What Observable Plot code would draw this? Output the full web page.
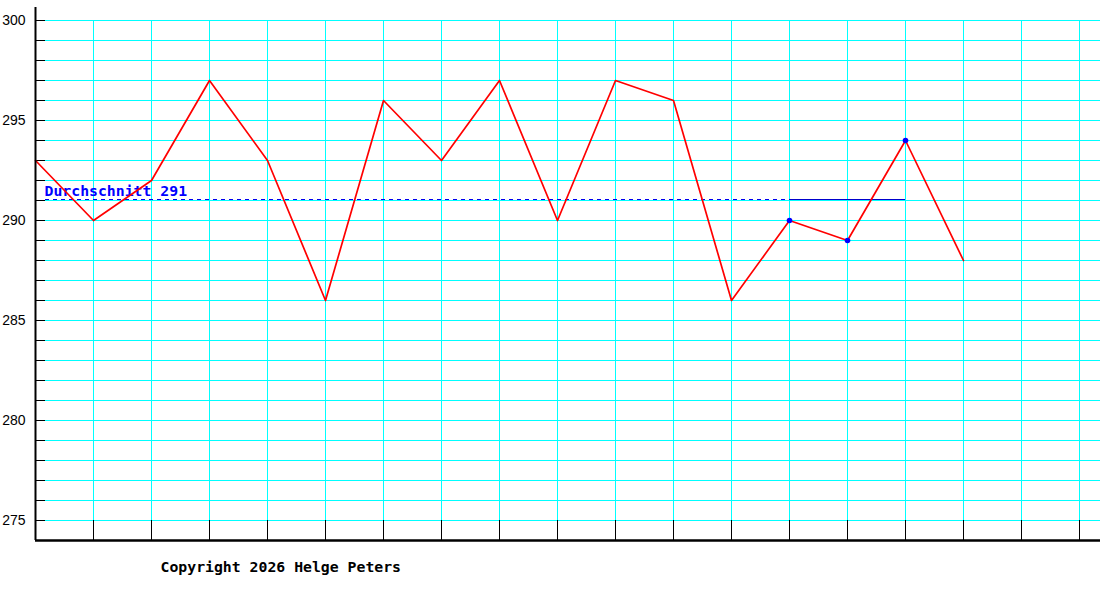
<!DOCTYPE html>
<html>
<head>
<meta charset="utf-8">
<script src="https://cdn.jsdelivr.net/npm/d3@7"></script>
<script src="https://cdn.jsdelivr.net/npm/@observablehq/plot@0.6"></script>
<style>
  body { margin: 0; background: #fff; }
  svg { display: block; }
</style>
</head>
<body>
<div id="chart"></div>
<script>
// ---- data ----
const values = [293, 290, 292, 297, 293, 286, 296, 293, 297, 290, 297, 296, 286, 290, 289, 294, 288];
const highlightIdx = [13, 14, 15];
const average = 291;
const avgLabel = "Durchschnitt 291";
const avgDashedRange = [0, 13];
const avgSolidRange = [13, 15];
const yTickLabels = [275, 280, 285, 290, 295, 300];
const yGridValues = d3.range(275, 301);
const xGridValues = d3.range(1, 19);
const caption = "Copyright 2026 Helge Peters";

const points = values.map((v, i) => ({i, v}));
const highlights = highlightIdx.map(i => ({i, v: values[i]}));

const W = 1100, H = 600, mL = 35, mR = 0, mT = 20, mB = 60;
const xStep = 58;
const xMax = (W - mL - mR) / xStep;
const yMin = 274, yMax = 300;
const tickLen = 10 / xStep; // inward tick length in x units

const plot = Plot.plot({
  width: W, height: H,
  marginLeft: mL, marginRight: mR, marginTop: mT, marginBottom: mB,
  x: {type: "linear", domain: [0, xMax], axis: null},
  y: {type: "linear", domain: [yMin, yMax], axis: null},
  style: {background: "#fff", overflow: "visible"},
  marks: [
    // cyan grid
    Plot.ruleY(yGridValues, {y: d => d, x1: 0, x2: xMax, stroke: "#00ffff", strokeWidth: 1}),
    Plot.ruleX(xGridValues, {x: d => d, y1: 275, y2: 300, stroke: "#00ffff", strokeWidth: 1}),
    // black bottom ticks
    Plot.ruleX(xGridValues, {x: d => d, y1: yMin, y2: 275, stroke: "#000", strokeWidth: 1}),
    // black left ticks
    Plot.ruleY(yGridValues, {y: d => d, x1: 0, x2: tickLen, stroke: "#000", strokeWidth: 1}),
    // average line
    Plot.ruleY([average], {y: d => d, x1: avgDashedRange[0] + tickLen, x2: avgDashedRange[1], dy: -1, stroke: "#0000ee", strokeWidth: 1, strokeDasharray: "4,4"}),
    Plot.ruleY([average], {y: d => d, x1: avgSolidRange[0], x2: avgSolidRange[1], dy: -1, stroke: "#0000cc", strokeWidth: 1}),
    Plot.text([avgLabel], {x: 0, y: average, text: d => d, dx: 9, dy: -9, textAnchor: "start", fill: "#0000ff", fontFamily: "DejaVu Sans Mono", fontSize: 14.8, fontWeight: "bold"}),
    // data line
    Plot.line(points, {x: "i", y: "v", stroke: "#ff0000", strokeWidth: 1.7}),
    Plot.dot(highlights, {x: "i", y: "v", r: 2.8, fill: "#0000ff", stroke: "none"}),
    // axes lines
    Plot.ruleX([0], {y1: yMin, y2: 300.65, stroke: "#000", strokeWidth: 2}),
    Plot.ruleY([yMin], {x1: 0, x2: xMax, stroke: "#000", strokeWidth: 2.5}),
    // y tick labels
    Plot.text(yTickLabels, {x: 0, y: d => d, text: d => String(d), dx: -10, textAnchor: "end", fill: "#000", fontFamily: "Liberation Sans", fontSize: 14}),
    // caption
    Plot.text([caption], {frameAnchor: "bottom-left", text: d => d, dx: 125, dy: 31, textAnchor: "start", fill: "#000", fontFamily: "DejaVu Sans Mono", fontSize: 14.8, fontWeight: "bold"})
  ]
});
document.getElementById("chart").appendChild(plot);
</script>
</body>
</html>
